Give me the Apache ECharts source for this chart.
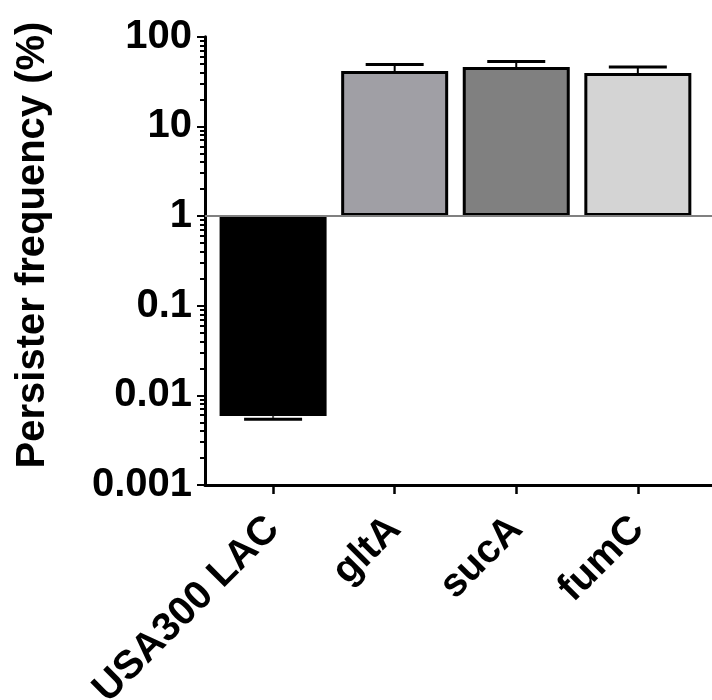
<!DOCTYPE html>
<html><head><meta charset="utf-8">
<script src="https://cdn.jsdelivr.net/npm/echarts@6/dist/echarts.min.js"></script>
<style>html,body{margin:0;padding:0;background:#fff}#c{width:712px;height:700px}</style>
</head><body><div id="c"></div>
<script>
const categories = ['USA300 LAC', 'gltA', 'sucA', 'fumC'];
const means = [0.0059, 41.4, 45.9, 39.3];
const errors = [0.0005, 7.6, 7.1, 6.6];
const barColors = ['#000000', '#a09fa5', '#808080', '#d4d4d4'];
const yTickLabels = [0.001, 0.01, 0.1, 1, 10, 100];
const yTitle = 'Persister frequency (%)';

const minorTicks = [];
for (let d = 0; d < yTickLabels.length - 1; d++) {
  for (let k = 2; k <= 9; k++) minorTicks.push(+(yTickLabels[d] * k).toPrecision(6));
}
const catIdx = categories.map((c, i) => i);
const FONT = '"Liberation Sans", Arial, Helvetica, sans-serif';

const chart = echarts.init(document.getElementById('c'), null, {renderer: 'canvas'});
chart.setOption({
  animation: false,
  backgroundColor: '#ffffff',
  grid: {left: 205, right: 0, top: 36.7, bottom: 215, containLabel: false, outerBoundsMode: 'none'},
  xAxis: {
    type: 'value', min: -0.56, max: 3.61,
    splitLine: {show: false},
    axisLine: {onZero: false, lineStyle: {color: '#000', width: 3}},
    axisTick: {customValues: catIdx, length: 9, lineStyle: {color: '#000', width: 2.5}},
    axisLabel: {
      customValues: catIdx, rotate: 45, margin: 38,
      formatter: v => categories[Math.round(v)] || '',
      color: '#000', fontFamily: FONT, fontWeight: 'bold', fontSize: 40
    }
  },
  yAxis: [{
    type: 'log', logBase: 10, min: yTickLabels[0], max: yTickLabels[yTickLabels.length - 1],
    splitLine: {show: false},
    axisLine: {onZero: false, lineStyle: {color: '#000', width: 3}},
    axisTick: {length: 8, lineStyle: {color: '#000', width: 2}},
    axisLabel: {
      margin: 13, color: '#000', fontFamily: FONT, fontWeight: 'bold', fontSize: 40,
      formatter: v => String(+(+v).toPrecision(6))
    }
  }, {
    type: 'log', logBase: 10, min: yTickLabels[0], max: yTickLabels[yTickLabels.length - 1],
    position: 'left',
    splitLine: {show: false},
    axisLine: {show: false, onZero: false},
    axisLabel: {show: false},
    axisTick: {customValues: minorTicks, length: 5, lineStyle: {color: '#000', width: 2}}
  }],
  graphic: [{
    type: 'text', x: 33, y: 245, rotation: Math.PI / 2,
    style: {text: yTitle, fill: '#000', font: 'bold 40px ' + FONT, align: 'center', verticalAlign: 'middle'}
  }],
  series: [{
    type: 'bar', yAxisIndex: 0, barWidth: 107,
    data: means.map((v, i) => ({value: [i, v], itemStyle: {color: barColors[i]}})),
    itemStyle: {borderColor: '#000', borderWidth: 3},
    markLine: {
      silent: true, symbol: 'none', label: {show: false},
      lineStyle: {color: '#808080', width: 2, type: 'solid'},
      data: [{yAxis: 1}]
    }
  }, {
    type: 'custom', yAxisIndex: 0, z: 5,
    data: means.map((v, i) => [i, v, errors[i]]),
    encode: {x: 0, y: 1},
    renderItem: (params, api) => {
      const x = api.value(0), m = api.value(1), e = api.value(2);
      const end = m < 1 ? m - e : m + e;
      const p0 = api.coord([x, m]);
      const p1 = api.coord([x, end]);
      const hw = 29;
      return {type: 'group', children: [
        {type: 'line', shape: {x1: p0[0], y1: p0[1], x2: p1[0], y2: p1[1]}, style: {stroke: m < 1 ? '#555' : '#000', lineWidth: 2}},
        {type: 'line', shape: {x1: p1[0] - hw, y1: p1[1], x2: p1[0] + hw, y2: p1[1]}, style: {stroke: '#000', lineWidth: 3}}
      ]};
    }
  }]
});
</script></body></html>
